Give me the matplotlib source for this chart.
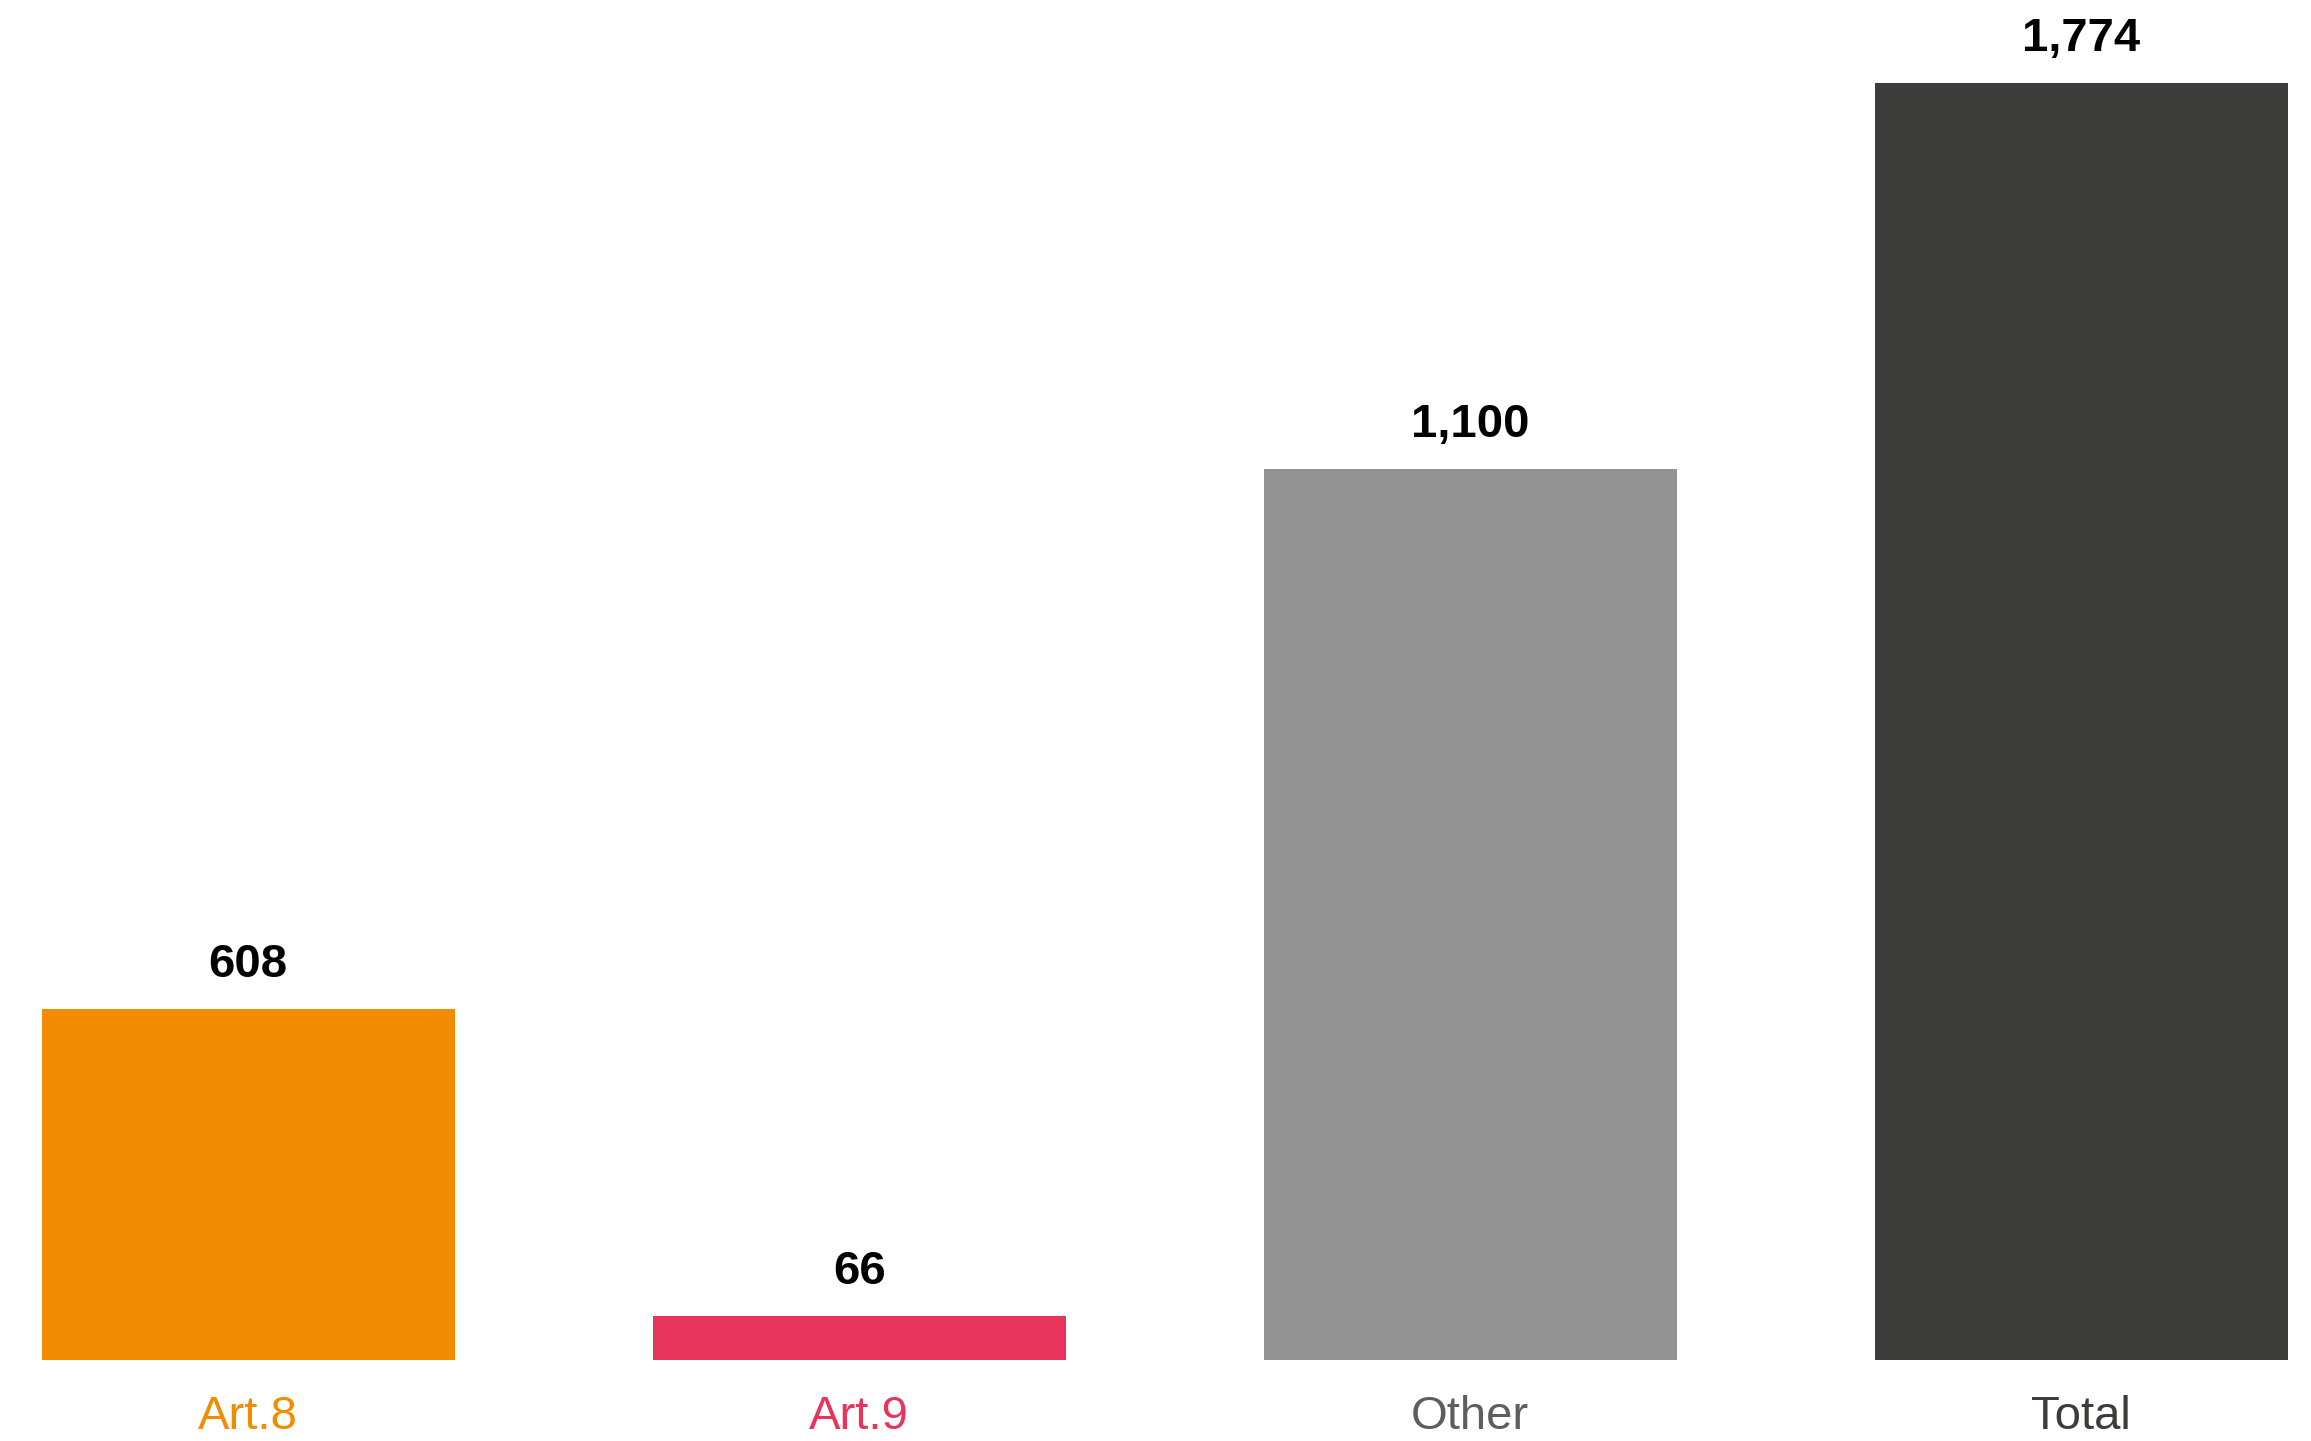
import matplotlib.pyplot as plt

# labels shown above the bars
categories = ['Art.8', 'Art.9', 'Other', 'Total']
counts = [608, 66, 1100, 1774]
# bar heights as drawn in the picture (same units, Total = 1774)
bar_heights = [488, 61, 1238, 1774]

bar_colors = ['#F28C00', '#E8335A', '#939393', '#3C3C3A']
label_colors = ['#F28C00', '#E8335A', '#5E5E5E', '#3C3C3A']

plt.rcParams['font.family'] = ['Liberation Sans', 'DejaVu Sans']

fig = plt.figure(figsize=(23.11, 14.41), dpi=100)
ax = fig.add_axes([0, 0.0562, 1, 0.9438])

x = list(range(len(categories)))
bars = ax.bar(x, bar_heights, width=0.676, color=bar_colors)

for b, v in zip(bars, counts):
    ax.annotate('{:,}'.format(v), (b.get_x() + b.get_width() / 2, b.get_height()),
                xytext=(0, 23), textcoords='offset points',
                ha='center', va='baseline', fontsize=34, fontweight='bold', color='black')

ax.set_xlim(-0.406, 3.376)
ax.set_ylim(0, 1889)
ax.set_xticks(x)
ax.set_xticklabels(categories, fontsize=34)
for t, c in zip(ax.get_xticklabels(), label_colors):
    t.set_color(c)
ax.tick_params(axis='x', length=0, pad=25)
ax.set_yticks([])
for s in ax.spines.values():
    s.set_visible(False)

fig.savefig('out.png', dpi=100)
